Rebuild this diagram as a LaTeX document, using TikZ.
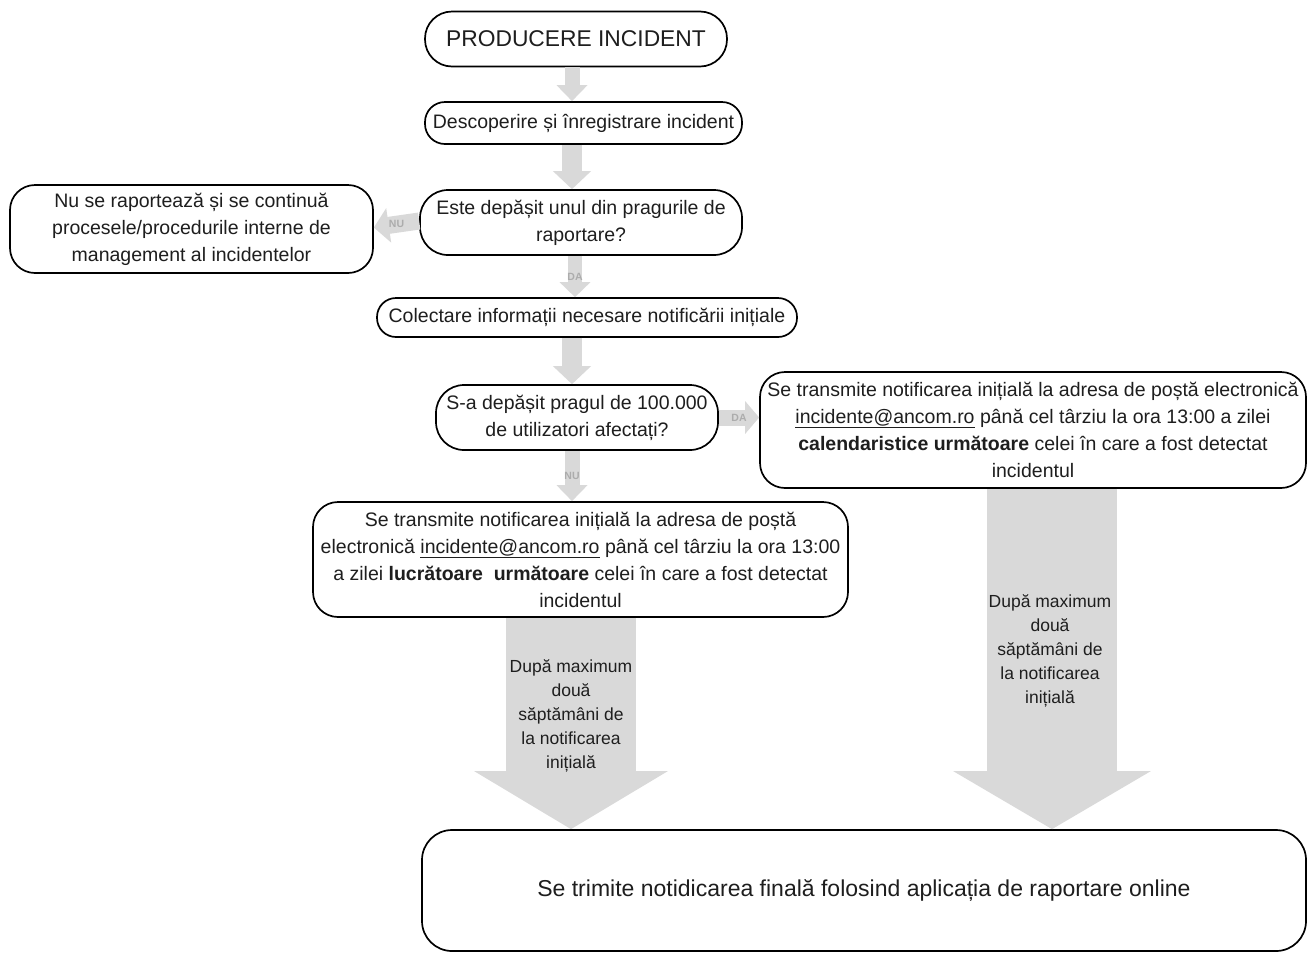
\documentclass[tikz,border=0pt]{standalone}
\usepackage{fontspec}
\setmainfont{Liberation Sans}
\usetikzlibrary{arrows.meta}
\definecolor{arrgray}{RGB}{217,217,217}
\definecolor{lblgray}{RGB}{172,172,172}
\definecolor{txt}{RGB}{30,30,30}
\begin{document}
\begin{tikzpicture}[x=1pt,y=-1pt,
  box/.style={draw=black, line width=1.7pt, align=center, inner sep=2pt,
    text=txt, font=\fontsize{19.5}{27}\selectfont},
  garrow/.style n args={3}{draw=arrgray, line width=#1,
    -{Triangle[width=#2,length=#3]}},
  lbl/.style={font=\fontsize{10.5}{11}\selectfont\bfseries, text=lblgray, inner sep=0pt},
  arrowtext/.style={align=center, text=txt, font=\fontsize{17.5}{24}\selectfont}
]
\useasboundingbox (0,0) rectangle (1308,954);
\fill[white] (0,0) rectangle (1308,954);

% boxes
\node[box, minimum width=302pt, minimum height=55pt, rounded corners=27pt,
  font=\fontsize{22.8}{25}\selectfont] (title) at (576,39) {PRODUCERE INCIDENT};
\node[box, minimum width=317pt, minimum height=42pt, rounded corners=20pt] (desc) at (583.5,123)
  {Descoperire și înregistrare incident};
\node[box, minimum width=322pt, minimum height=65pt, rounded corners=28pt] (q1) at (581,222.5)
  {Este depășit unul din pragurile de\\raportare?};
\node[box, minimum width=363pt, minimum height=88pt, rounded corners=25pt] (left) at (191.5,229)
  {Nu se raportează și se continuă\\procesele/procedurile interne de\\management al incidentelor};
\node[box, minimum width=420pt, minimum height=39pt, rounded corners=19pt] (collect) at (587,317.5)
  {Colectare informații necesare notificării inițiale};
\node[box, minimum width=282pt, minimum height=65pt, rounded corners=28pt] (q2) at (577,417.5)
  {S-a depășit pragul de 100.000\\de utilizatori afectați?};
\node[box, minimum width=546pt, minimum height=116pt, rounded corners=25pt] (right) at (1033,430)
  {Se transmite notificarea inițială la adresa de poștă electronică\\
   \underline{incidente@ancom.ro} până cel târziu la ora 13:00 a zilei\\
   \textbf{calendaristice următoare} celei în care a fost detectat\\incidentul};
\node[box, minimum width=535pt, minimum height=115pt, rounded corners=25pt] (lower) at (580.5,559.5)
  {Se transmite notificarea inițială la adresa de poștă\\
   electronică \underline{incidente@ancom.ro} până cel târziu la ora 13:00\\
   a zilei \textbf{lucrătoare\ \ următoare} celei în care a fost detectat\\incidentul};
\node[box, minimum width=884pt, minimum height=121pt, rounded corners=30pt,
  font=\fontsize{23}{26}\selectfont] (final) at (864,890.5)
  {Se trimite notidicarea finală folosind aplicația de raportare online};

% grey block arrows
\draw[garrow={15pt}{30pt}{16pt}] ([xshift=-4pt]title.south) -- ([xshift=-11.5pt]desc.north);
\draw[garrow={20pt}{37pt}{18pt}] ([xshift=-11.5pt]desc.south) -- ([xshift=-9pt]q1.north);
\draw[garrow={17pt}{34pt}{15pt}] ([yshift=1.5pt]q1.west) -- ([yshift=-5pt]left.east |- q1.west)
  node[midway, lbl] {NU};
\draw[garrow={14pt}{30pt}{15pt}] ([xshift=-6pt]q1.south) -- ([xshift=-12pt]collect.north)
  node[midway, lbl] {DA};
\draw[garrow={20pt}{37pt}{18pt}] ([xshift=-15pt]collect.south) -- ([xshift=-5pt]q2.north);
\draw[garrow={16pt}{32pt}{14pt}] (q2.east) -- (right.west |- q2.east)
  node[midway, lbl] {DA};
\draw[garrow={15pt}{30pt}{16pt}] ([xshift=-5pt]q2.south) -- ([xshift=-8.5pt]lower.north)
  node[midway, lbl] {NU};
\draw[garrow={130pt}{191pt}{58pt}] ([xshift=-9.5pt]lower.south) -- ([xshift=-9.5pt]lower.south |- final.north);
\draw[garrow={130pt}{195pt}{58pt}] ([xshift=19pt]right.south) -- ([xshift=19pt]right.south |- final.north);

% texts inside the big arrows
\node[arrowtext] (t1) at (571,716) {După maximum\\două\\săptămâni de\\la notificarea\\inițială};
\node[arrowtext] (t2) at (1050,651) {După maximum\\două\\săptămâni de\\la notificarea\\inițială};
\end{tikzpicture}
\end{document}
